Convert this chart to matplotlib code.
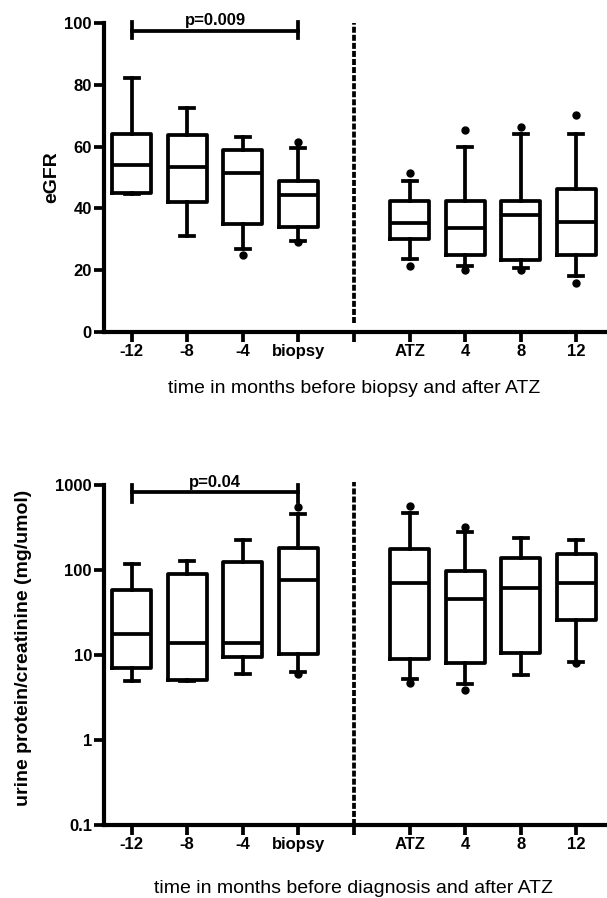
import matplotlib.pyplot as plt
from matplotlib.ticker import FixedLocator, NullLocator

plt.rcParams['font.family'] = ['Liberation Sans', 'DejaVu Sans']

# positions 1-4 before biopsy, 6-9 after ATZ (5 = separator)
positions = [1, 2, 3, 4, 6, 7, 8, 9]
tick_pos = [1, 2, 3, 4, 5, 6, 7, 8, 9]
tick_labels = ['-12', '-8', '-4', 'biopsy', '', 'ATZ', '4', '8', '12']

# eGFR box stats: whislo, q1, med, q3, whishi, fliers
egfr_whislo = [44.5, 31, 27, 29.4, 23.7, 21.2, 20.7, 18.2]
egfr_q1 = [45, 42, 35, 33.9, 30, 24.9, 23.2, 24.9]
egfr_med = [54, 53.3, 51.5, 44.4, 35.3, 33.7, 38, 35.5]
egfr_q3 = [64, 63.6, 58.9, 48.8, 42.5, 42.5, 42.5, 46.3]
egfr_whishi = [82.2, 72.4, 63.2, 59.6, 49, 59.8, 64.2, 64.2]
egfr_fliers = [[], [], [25], [61.5, 29], [51.5, 21.2], [65.3, 20.1], [66.5, 20], [70.1, 16]]

# urine protein/creatinine box stats
upc_whislo = [5, 5, 6, 6.3, 5.2, 4.5, 5.8, 8.2]
upc_q1 = [7, 5.1, 9.4, 10.3, 8.9, 8, 10.5, 26]
upc_med = [17.5, 14, 14, 76, 70, 46, 61, 71]
upc_q3 = [58, 90, 125, 180, 177, 97, 137, 154]
upc_whishi = [118, 128, 225, 452, 465, 282, 236, 225]
upc_fliers = [[], [], [], [555, 6], [566, 4.7], [324, 3.9], [], [8]]

LW = 2.7
TICK_FS = 12
LABEL_FS = 14


def stats(lo, q1, med, q3, hi, fl):
    return [dict(whislo=a, q1=b, med=c, q3=d, whishi=e, fliers=f)
            for a, b, c, d, e, f in zip(lo, q1, med, q3, hi, fl)]


def draw(ax, st, sig_y, cap_lo, cap_hi, ptext, text_y):
    lp = dict(color='black', linewidth=LW)
    ax.bxp(st, positions=positions, widths=0.7, capwidths=0.25,
           boxprops=lp, whiskerprops=lp, capprops=lp, medianprops=lp,
           flierprops=dict(marker='o', markerfacecolor='black',
                           markeredgecolor='black', markersize=5),
           manage_ticks=False)
    ax.set_xlim(0.5, 9.55)
    ax.xaxis.set_major_locator(FixedLocator(tick_pos))
    ax.set_xticklabels(tick_labels)
    for s in ['top', 'right']:
        ax.spines[s].set_visible(False)
    for s in ['left', 'bottom']:
        ax.spines[s].set_linewidth(3)
    ax.tick_params(axis='both', width=2.7, length=7, labelsize=TICK_FS, pad=1.5)
    # significance bar
    ax.plot([1, 4], [sig_y, sig_y], color='black', lw=LW, clip_on=False)
    for x in (1, 4):
        ax.plot([x, x], [cap_lo, cap_hi], color='black', lw=LW, clip_on=False)
    ax.text(2.5, text_y, ptext, ha='center', va='bottom', fontsize=TICK_FS,
            fontweight='bold', clip_on=False)


fig = plt.figure(figsize=(6.07, 8.98), dpi=100)
ax1 = fig.add_axes([0.171, 0.6303, 0.829, 0.3441])
ax2 = fig.add_axes([0.171, 0.0813, 0.829, 0.3786])

# top: eGFR
draw(ax1, stats(egfr_whislo, egfr_q1, egfr_med, egfr_q3, egfr_whishi, egfr_fliers),
     97.5, 95, 100.4, 'p=0.009', 98.3)
ax1.set_ylim(0, 100)
ax1.set_yticks([0, 20, 40, 60, 80, 100])
ax1.axvline(5, ymin=0.03, ymax=1.0, color='black', lw=LW, linestyle=(0, (1.6, 0.55)))
ax1.set_ylabel('eGFR', fontsize=LABEL_FS, fontweight='bold')
ax1.yaxis.set_label_coords(-0.087, 0.5)
ax1.set_xlabel('time in months before biopsy and after ATZ', fontsize=LABEL_FS)
ax1.xaxis.set_label_coords(0.497, -0.155)

# bottom: urine protein/creatinine (log)
draw(ax2, stats(upc_whislo, upc_q1, upc_med, upc_q3, upc_whishi, upc_fliers),
     820, 630, 1000, 'p=0.04', 870)
ax2.set_yscale('log')
ax2.set_ylim(0.1, 1000)
ax2.yaxis.set_major_locator(FixedLocator([0.1, 1, 10, 100, 1000]))
ax2.yaxis.set_minor_locator(NullLocator())
ax2.set_yticklabels(['0.1', '1', '10', '100', '1000'])
ax2.axvline(5, ymin=0.0, ymax=1.01, color='black', lw=LW, linestyle=(0, (1.6, 0.55)),
            clip_on=False)
ax2.set_ylabel('urine protein/creatinine (mg/umol)', fontsize=LABEL_FS, fontweight='bold')
ax2.yaxis.set_label_coords(-0.143, 0.52)
ax2.set_xlabel('time in months before diagnosis and after ATZ', fontsize=LABEL_FS)
ax2.xaxis.set_label_coords(0.497, -0.162)

for ax in (ax1, ax2):
    for t in ax.get_xticklabels() + ax.get_yticklabels():
        t.set_fontweight('bold')

fig.savefig('out.png', dpi=100)
